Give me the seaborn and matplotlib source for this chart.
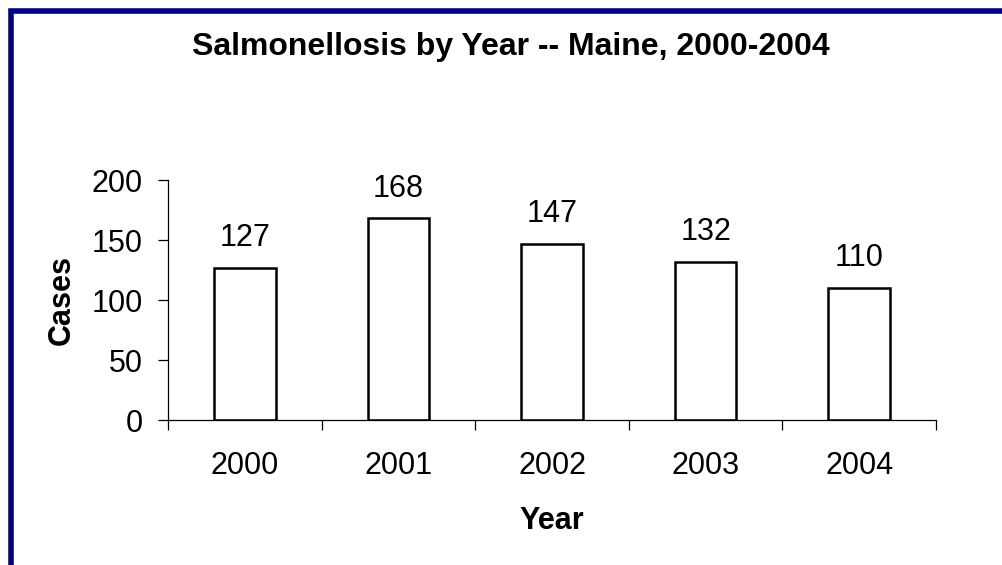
import matplotlib
matplotlib.use("Agg")
import matplotlib.pyplot as plt
import matplotlib.patches as mpatches
import seaborn as sns
import pandas as pd

years = ["2000", "2001", "2002", "2003", "2004"]
cases = [127, 168, 147, 132, 110]

sns.set_theme(style="white")
plt.rcParams['font.family'] = ['Liberation Sans', 'DejaVu Sans']
plt.rcParams['text.color'] = 'black'
plt.rcParams['axes.labelcolor'] = 'black'
plt.rcParams['xtick.color'] = 'black'
plt.rcParams['ytick.color'] = 'black'

df = pd.DataFrame({"Year": years, "Cases": cases})

fig = plt.figure(figsize=(10.03, 5.65), dpi=100)
ax = fig.add_axes([168 / 1003, 145 / 565, 768 / 1003, 240 / 565])

sns.barplot(data=df, x="Year", y="Cases", ax=ax, color="white",
            edgecolor="black", linewidth=1.8, width=0.4, saturation=1)

ax.set_ylim(0, 200)
ax.set_xlim(-0.5, len(years) - 0.5)
ax.set_yticks([0, 50, 100, 150, 200])

# labels above bars
for i, v in enumerate(cases):
    ax.annotate(str(v), (i, v), xytext=(0, 10.5), textcoords="offset points",
                ha="center", va="bottom", fontsize=22)

# spines
for s in ["top", "right"]:
    ax.spines[s].set_visible(False)
for s in ["left", "bottom"]:
    ax.spines[s].set_color("black")
    ax.spines[s].set_linewidth(0.9)

ax.tick_params(axis="y", which="major", direction="out", length=7, width=0.9,
               labelsize=22, pad=11, left=True)
ax.tick_params(axis="x", which="major", length=0, labelsize=22, pad=22)
ax.set_xticks([i + 0.5 for i in range(-1, len(years))], minor=True)
ax.tick_params(axis="x", which="minor", direction="out", length=7, width=0.9,
               bottom=True)

ax.set_xlabel("Year", fontsize=22, fontweight="bold", labelpad=18)
ax.set_ylabel("Cases", fontsize=22, fontweight="bold", labelpad=11)

fig.text(511 / 1003, 1 - 47.5 / 565, "Salmonellosis by Year -- Maine, 2000-2004",
         ha="center", va="center", fontsize=23, fontweight="bold")

# navy frame (right/bottom edges cut off like the original)
frame = mpatches.Rectangle((10.5 / 1003, -0.2), 1.2, 1.2 - 10.5 / 565,
                           transform=fig.transFigure, fill=False,
                           edgecolor="#000080", linewidth=4, clip_on=False)
fig.patches.append(frame)

fig.savefig("out.png", dpi=100)
